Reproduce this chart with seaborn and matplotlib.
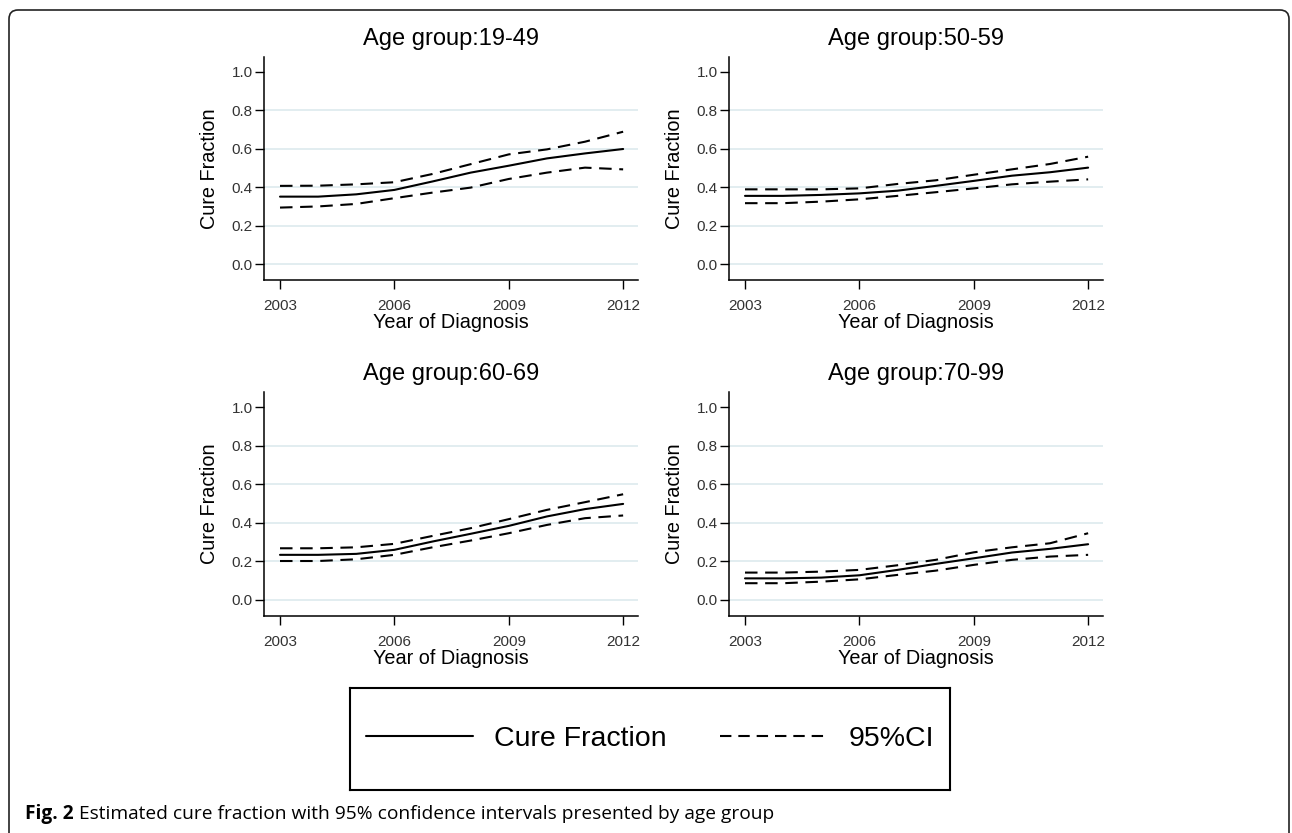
import matplotlib
matplotlib.use("Agg")
import numpy as np
import pandas as pd
import seaborn as sns
import matplotlib.pyplot as plt
from matplotlib.patches import FancyBboxPatch
from matplotlib.lines import Line2D

# ---------------- data ----------------
years = [2003, 2004, 2005, 2006, 2007, 2008, 2009, 2010, 2011, 2012]
panel_titles = ["Age group:19-49", "Age group:50-59", "Age group:60-69", "Age group:70-99"]

cf_19_49 = [0.351, 0.351, 0.363, 0.386, 0.430, 0.476, 0.512, 0.550, 0.576, 0.599]
lo_19_49 = [0.294, 0.300, 0.313, 0.343, 0.372, 0.398, 0.443, 0.476, 0.502, 0.493]
hi_19_49 = [0.407, 0.408, 0.415, 0.426, 0.469, 0.520, 0.571, 0.597, 0.637, 0.689]

cf_50_59 = [0.355, 0.355, 0.360, 0.368, 0.382, 0.407, 0.433, 0.460, 0.478, 0.502]
lo_50_59 = [0.317, 0.317, 0.325, 0.337, 0.355, 0.374, 0.394, 0.415, 0.429, 0.441]
hi_50_59 = [0.389, 0.389, 0.389, 0.394, 0.417, 0.436, 0.465, 0.493, 0.521, 0.559]

cf_60_69 = [0.234, 0.234, 0.239, 0.260, 0.303, 0.343, 0.384, 0.433, 0.471, 0.498]
lo_60_69 = [0.202, 0.202, 0.211, 0.234, 0.273, 0.308, 0.346, 0.389, 0.424, 0.438]
hi_60_69 = [0.268, 0.268, 0.273, 0.291, 0.332, 0.372, 0.419, 0.467, 0.507, 0.548]

cf_70_99 = [0.112, 0.112, 0.116, 0.128, 0.156, 0.187, 0.216, 0.246, 0.265, 0.289]
lo_70_99 = [0.087, 0.087, 0.095, 0.107, 0.130, 0.152, 0.182, 0.208, 0.225, 0.234]
hi_70_99 = [0.142, 0.142, 0.147, 0.156, 0.180, 0.208, 0.247, 0.273, 0.294, 0.346]

panels = [
    (cf_19_49, lo_19_49, hi_19_49),
    (cf_50_59, lo_50_59, hi_50_59),
    (cf_60_69, lo_60_69, hi_60_69),
    (cf_70_99, lo_70_99, hi_70_99),
]

x_ticks = [2003, 2006, 2009, 2012]
y_ticks = [0.0, 0.2, 0.4, 0.6, 0.8, 1.0]
y_tick_labels = ["0.0", "0.2", "0.4", "0.6", "0.8", "1.0"]
grid_levels = [0.0, 0.2, 0.4, 0.6, 0.8]
legend_labels = ["Cure Fraction", "95%CI"]
caption_bold = "Fig. 2"
caption_rest = " Estimated cure fraction with 95% confidence intervals presented by age group"

# ---------------- style ----------------
sns.set_theme(style="white")
plt.rcParams["font.family"] = ["Liberation Sans", "DejaVu Sans"]
plt.rcParams["lines.scale_dashes"] = False
plt.rcParams["text.color"] = "black"
plt.rcParams["axes.labelcolor"] = "black"

W, H = 1292, 833
fig = plt.figure(figsize=(W / 100, H / 100), dpi=100)
fig.patch.set_facecolor("white")

LW = 1.5
DASH = (9.0, 5.5)
LEG_DASH = (8.2, 5.0)
GRID_COLOR = "#dfecef"
TICK_COLOR = "#333333"

# axes boxes in pixel coordinates (left, top, right, bottom)
boxes = [
    (264, 57, 638, 280),
    (729, 57, 1103, 280),
    (264, 392, 638, 616),
    (729, 392, 1103, 616),
]

for (cf, lo, hi), title, (l, t, r, b) in zip(panels, panel_titles, boxes):
    ax = fig.add_axes([l / W, 1 - b / H, (r - l) / W, (b - t) / H])
    df = pd.DataFrame({
        "year": years * 3,
        "value": cf + lo + hi,
        "series": ["Cure Fraction"] * len(years) + ["Lower"] * len(years) + ["Upper"] * len(years),
    })
    for g in grid_levels:
        ax.axhline(g, color=GRID_COLOR, lw=1.3, zorder=0)
    sns.lineplot(
        data=df, x="year", y="value", style="series",
        dashes={"Cure Fraction": "", "Lower": DASH, "Upper": DASH},
        color="black", lw=LW, errorbar=None, legend=False, ax=ax,
    )
    ax.set_xlim(2002.58, 2012.39)
    ax.set_ylim(-0.083, 1.078)
    ax.set_xticks(x_ticks)
    ax.set_xticklabels([str(v) for v in x_ticks])
    ax.set_yticks(y_ticks)
    ax.set_yticklabels(y_tick_labels)
    for side in ["top", "right"]:
        ax.spines[side].set_visible(False)
    for side in ["left", "bottom"]:
        ax.spines[side].set_color("black")
        ax.spines[side].set_linewidth(1.1)
    ax.tick_params(axis="x", direction="out", length=6.5, width=1.0, color="black",
                   labelsize=11, labelcolor=TICK_COLOR, pad=7, bottom=True)
    ax.tick_params(axis="y", direction="out", length=6.5, width=1.0, color="black",
                   labelsize=11, labelcolor=TICK_COLOR, pad=1.5, left=True)
    ax.set_xlabel("Year of Diagnosis", fontsize=14.3, color="black", labelpad=0)
    ax.set_ylabel("Cure Fraction", fontsize=14.3, color="black", labelpad=9)
    ax.set_title(title, fontsize=17, color="black", pad=8.5)
    ax.set_facecolor("white")

# ---------------- legend box ----------------
lx0, ly0, lx1, ly1 = 350, 688, 950, 790
lax = fig.add_axes([lx0 / W, 1 - ly1 / H, (lx1 - lx0) / W, (ly1 - ly0) / H])
lax.set_xticks([])
lax.set_yticks([])
for s in lax.spines.values():
    s.set_visible(True)
    s.set_color("black")
    s.set_linewidth(1.5)
handles = [
    Line2D([], [], color="black", lw=LW),
    Line2D([], [], color="black", lw=LW, linestyle=(0, LEG_DASH)),
]
leg = lax.legend(handles, legend_labels, loc="center", ncol=2, frameon=False,
                 fontsize=20.5, handlelength=3.75, handletextpad=0.77,
                 columnspacing=1.86, borderaxespad=0)
for txt in leg.get_texts():
    txt.set_color("black")

# ---------------- outer rounded frame ----------------
frame = FancyBboxPatch((9 / 100, -0.5), (1289 - 9) / 100, (H - 10) / 100 + 0.5,
                       boxstyle="round,pad=0,rounding_size=0.09",
                       transform=fig.dpi_scale_trans, fill=False,
                       edgecolor="#222222", lw=1.2, clip_on=False)
fig.add_artist(frame)

# ---------------- caption ----------------
cap_font = ["Open Sans", "DejaVu Sans"]
t1 = fig.text(25 / W, 1 - 819 / H, caption_bold, fontsize=13.8, fontweight="bold",
              family=cap_font, color="black", va="baseline", ha="left")
fig.canvas.draw()
bb = t1.get_window_extent(renderer=fig.canvas.get_renderer())
fig.text(bb.x1 / W, 1 - 819 / H, caption_rest, fontsize=13.8, family=cap_font,
         color="black", va="baseline", ha="left")

fig.savefig("out.png", dpi=100, facecolor="white")
